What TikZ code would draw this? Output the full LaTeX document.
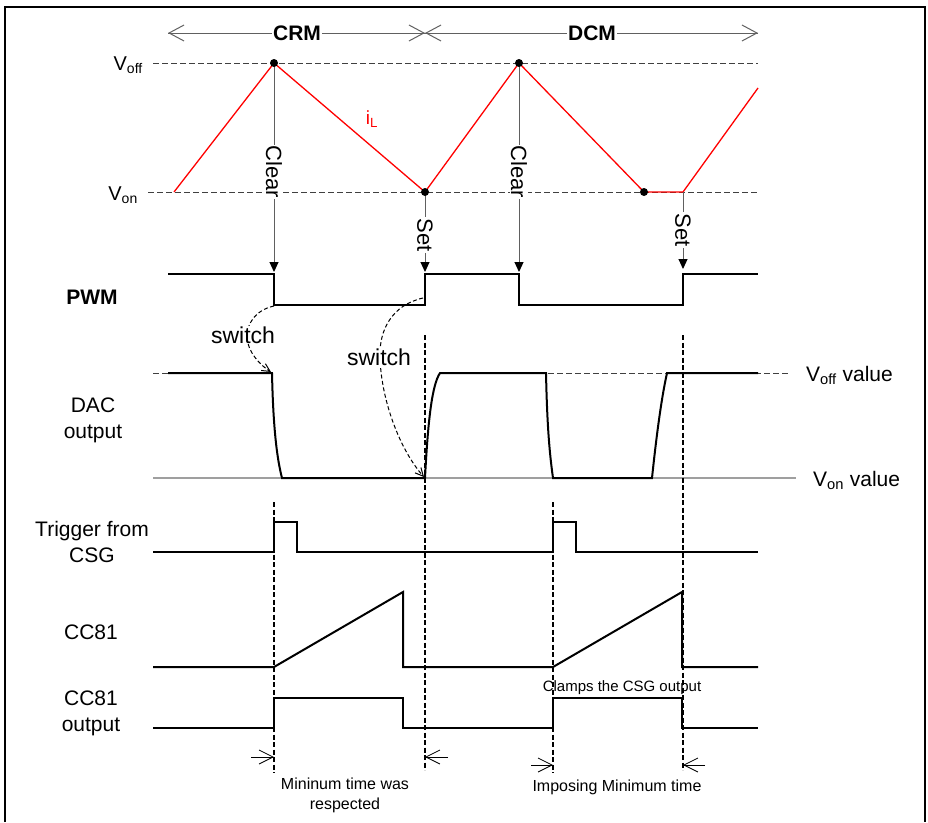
\documentclass[tikz,border=0pt]{standalone}
\usepackage{fontspec}
\setmainfont{Liberation Sans}
\usetikzlibrary{arrows.meta}
\definecolor{gl}{HTML}{606060}
\definecolor{lv}{HTML}{404040}
\begin{document}
\begin{tikzpicture}[x=1pt,y=-1pt,
  lbl/.style={font=\fontsize{21}{26}\selectfont, align=center, inner sep=0pt},
  lblb/.style={font=\fontsize{21}{26}\selectfont\bfseries, inner sep=0pt},
  modelbl/.style={font=\fontsize{21}{26}\selectfont\bfseries, fill=white, inner sep=1pt},
  rot/.style={font=\fontsize{22}{26}\selectfont, rotate=-90, fill=white, inner sep=1pt},
  swl/.style={font=\fontsize{23}{26}\selectfont, fill=white, inner sep=1pt},
  note/.style={font=\fontsize{16}{20}\selectfont, align=center, inner sep=0pt},
  gline/.style={draw=gl, line width=1pt},
  lvl/.style={draw=lv, line width=1pt, dash pattern=on 6pt off 3pt},
  wave/.style={draw=black, line width=2pt, line join=miter},
  pwm/.style={draw=black, line width=2.6pt, line join=miter},
  vdash/.style={draw=black, line width=1.4pt, dash pattern=on 5pt off 2.5pt},
  barb/.style={-{Straight Barb[length=15pt,width=16pt]}},
  fillarr/.style={-{Triangle[length=10pt,width=9pt,color=black]}},
  swarr/.style={draw=black, line width=1pt, dash pattern=on 4pt off 2.5pt, -{Straight Barb[length=8pt,width=8pt]}},
]
\useasboundingbox (0,0) rectangle (928,822);
% frame
\draw[line width=1.5pt] (5,822) -- (5,7) -- (925,7) -- (925,822);

% mode arrows
\coordinate (crmL) at (168,33);
\coordinate (modeMid) at (425,33);
\coordinate (dcmR) at (758,33);
\draw[gline, barb] (modeMid) -- (crmL);
\draw[gline, barb] (crmL) -- (modeMid);
\draw[gline, barb] (modeMid) -- (dcmR);
\draw[gline, barb] (dcmR) -- (modeMid);
\node[modelbl] (crm) at (297,33) {CRM};
\node[modelbl] (dcm) at (592,33) {DCM};

% levels
\coordinate (voffL) at (153,63); \coordinate (voffR) at (758,63);
\coordinate (vonL) at (148,192); \coordinate (vonR) at (758,192);
\draw[lvl] (voffL) -- (voffR);
\draw[lvl] (vonL) -- (vonR);
\node[lbl, anchor=base east, font=\fontsize{20}{24}\selectfont] (voff) at (143,70) {V\textsubscript{off}};
\node[lbl, anchor=base east, font=\fontsize{20}{24}\selectfont] (von) at (138,200) {V\textsubscript{on}};

% inductor current
\coordinate (pk1) at (274,63);
\coordinate (vl1) at (425,192);
\coordinate (pk2) at (519,63);
\coordinate (vl2) at (644,192);
\coordinate (st2) at (683,192);
\draw[red, line width=1.3pt, line join=miter] (174,192) -- (pk1) -- (vl1) -- (pk2) -- (vl2) -- (st2) -- (758,88);
\node[red, font=\fontsize{19}{22}\selectfont, anchor=base] (il) at (372,124) {i\textsubscript{L}};

% clear / set arrows
\coordinate (t1) at (274,272);
\coordinate (t2) at (425,272);
\coordinate (t3) at (519,272);
\coordinate (t4) at (683,269);
\draw[gline, fillarr] (pk1) -- (t1);
\draw[gline, fillarr] (vl1) -- (t2);
\draw[gline, fillarr] (pk2) -- (t3);
\draw[gline, fillarr] (st2) -- (t4);
\node[rot] (clr1) at (274,172) {Clear};
\node[rot] (set1) at (425,235) {Set};
\node[rot] (clr2) at (519,172) {Clear};
\node[rot] (set2) at (683,230) {Set};
\foreach \p in {pk1,vl1,pk2,vl2} \fill (\p) circle (4pt);

% PWM
\node[lblb] (pwml) at (92,297) {PWM};
\draw[pwm] (168,274) -- (274,274) -- (274,305) -- (425,305) -- (425,274) -- (519,274) -- (519,305) -- (683,305) -- (683,274) -- (758,274);

% DAC levels
\draw[lvl] (153,373) -- (272,373);
\draw[lvl] (440,373) -- (790,373);
\draw[draw=gray!75, line width=1.2pt] (153,478) -- (796,478);
\node[lbl, anchor=base west, font=\fontsize{21}{24}\selectfont] (voffv) at (806,381) {V\textsubscript{off} value};
\node[lbl, anchor=base west, font=\fontsize{21}{24}\selectfont] (vonv) at (813,486) {V\textsubscript{on} value};
\node[lbl] (dacl) at (93,420) {DAC\\output};

% vertical dashed lines
\draw[vdash] (425,335) -- (425,770);
\draw[vdash] (683,335) -- (683,770);
\draw[vdash] (274,502) -- (274,773);
\draw[vdash] (553,502) -- (553,773);

% DAC waveform
\draw[wave] (168,373) -- (272,373) .. controls (273,420) and (276,455) .. (282,478) -- (425,478)
  .. controls (428,420) and (432,385) .. (440,373) -- (546,373)
  .. controls (547,420) and (549,450) .. (553,478) -- (652,478)
  .. controls (656,440) and (661,400) .. (667,373) -- (758,373);

% switch arrows
\coordinate (sw1a) at (274,306); \coordinate (sw1b) at (271,372);
\coordinate (sw2a) at (423,298); \coordinate (sw2b) at (424,477);
\draw[swarr] (sw1a) .. controls (255,310) and (246,325) .. (247,338) .. controls (248,352) and (260,365) .. (sw1b);
\draw[swarr] (sw2a) .. controls (392,305) and (379,330) .. (380,357) .. controls (381,400) and (400,450) .. (sw2b);
\node[swl] (sw1) at (243,335) {switch};
\node[swl] (sw2) at (379,357) {switch};

% Trigger from CSG
\node[lbl] (trgl) at (92,542) {Trigger from\\CSG};
\draw[wave] (153,552) -- (274,552) -- (274,522) -- (297,522) -- (297,552) -- (553,552) -- (553,522) -- (576,522) -- (576,552) -- (758,552);

% CC81
\node[lbl] (ccl) at (91,632) {CC81};
\draw[wave] (153,667) -- (274,667) -- (403,592) -- (403,667) -- (553,667) -- (682,592) -- (682,667) -- (758,667);

% CC81 output
\node[lbl] (ccol) at (91,713) {CC81\\output};
\draw[wave] (153,728) -- (274,728) -- (274,698) -- (403,698) -- (403,728) -- (553,728) -- (553,698) -- (682,698) -- (682,728) -- (758,728);
\node[note, font=\fontsize{15}{18}\selectfont] (clamp) at (622,688) {Clamps the CSG output};

% minimum-time arrows
\coordinate (m1a) at (251,757); \coordinate (m1b) at (274,757);
\coordinate (m2a) at (448,757); \coordinate (m2b) at (425,757);
\coordinate (m3a) at (531,765); \coordinate (m3b) at (553,765);
\coordinate (m4a) at (705,765); \coordinate (m4b) at (683,765);
\draw[draw=black, line width=0.8pt, -{Straight Barb[length=14pt,width=14pt]}] (m1a) -- (m1b);
\draw[draw=black, line width=0.8pt, -{Straight Barb[length=14pt,width=14pt]}] (m2a) -- (m2b);
\draw[draw=black, line width=0.8pt, -{Straight Barb[length=14pt,width=14pt]}] (m3a) -- (m3b);
\draw[draw=black, line width=0.8pt, -{Straight Barb[length=14pt,width=14pt]}] (m4a) -- (m4b);
\node[note] (mt1) at (345,795) {Mininum time was\\respected};
\node[note] (mt2) at (617,787) {Imposing Minimum time};
\end{tikzpicture}
\end{document}
